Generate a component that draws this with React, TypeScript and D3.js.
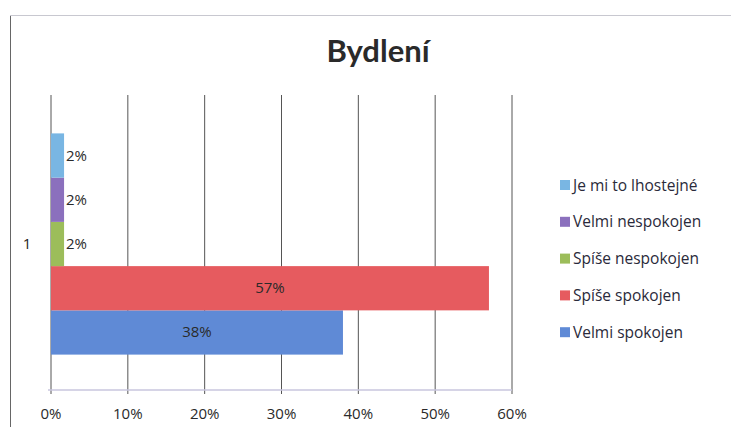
import React from "react";
import * as d3 from "d3";

const title = "Bydlení";
const categories = ["1"];
const seriesNames = ["Velmi spokojen", "Spíše spokojen", "Spíše nespokojen", "Velmi nespokojen", "Je mi to lhostejné"];
const seriesValues = [38, 57, 1.7, 1.7, 1.7];
const seriesColors = ["#5f8ad6", "#e65b5f", "#9cbd5a", "#8b70bd", "#79b6e3"];
const xTicks = [0, 10, 20, 30, 40, 50, 60];

const W = 739, H = 435;
const plot = { left: 51, right: 512, top: 95, bottom: 390 };
const font = "'Open Sans', 'Noto Sans', sans-serif";

export default function App() {
  const x = d3.scaleLinear().domain([0, 60]).range([plot.left, plot.right]);
  const yCat = d3.scaleBand().domain(categories).range([plot.top + 3, plot.bottom]).paddingInner(0).paddingOuter(0.16);
  // series drawn bottom-to-top (first series at bottom)
  const order = seriesNames.map((_, i) => i).reverse();
  const ySer = d3.scaleBand<number>().domain(order).range([0, yCat.bandwidth()]);
  const legendOrder = order;

  return (
    <div style={{ margin: -8, width: W, height: H, overflow: "hidden", background: "#fff" }}>
      <svg width={W} height={H} style={{ display: "block", fontFamily: font }}>
        <rect x={0} y={0} width={W} height={H} fill="#fff" />
        <line x1={10} x2={W} y1={15.5} y2={15.5} stroke="#c8c8d0" strokeWidth={1} />
        <line x1={10.5} x2={10.5} y1={16} y2={H} stroke="#666" strokeWidth={1} />
        <text x={378} y={62} textAnchor="middle" fontSize={31} fontWeight="bold" fill="#2a2a2a" fontFamily="Lato, 'Open Sans', sans-serif">{title}</text>
        {xTicks.map(t => (
          <line key={t} x1={x(t)} x2={x(t)} y1={plot.top} y2={plot.bottom + 4} stroke="#555" strokeWidth={1} />
        ))}
        <line x1={plot.left - 3} x2={plot.right} y1={plot.bottom} y2={plot.bottom} stroke="#c9c6de" strokeWidth={1.5} />
        {xTicks.map(t => (
          <text key={"l" + t} x={x(t)} y={419} textAnchor="middle" fontSize={15} fill="#2a2a2a">{t}%</text>
        ))}
        {categories.map(c => (
          <text key={c} x={27} y={(yCat(c) as number) + yCat.bandwidth() / 2 + 5} textAnchor="middle" fontSize={15} fill="#222">{c}</text>
        ))}
        {categories.map(c => (
          <g key={"g" + c} transform={`translate(0,${yCat(c)})`}>
            {seriesNames.map((s, i) => {
              const y0 = ySer(i) as number;
              const h = ySer.bandwidth();
              const v = seriesValues[i];
              const wBar = x(v) - x(0);
              const label = `${Math.round(v)}%`;
              const inside = wBar > 60;
              return (
                <g key={s}>
                  <rect x={x(0)} y={y0} width={wBar} height={h} fill={seriesColors[i]} />
                  <text x={inside ? x(0) + wBar / 2 : x(v) + 2} y={y0 + h / 2 + 5} textAnchor={inside ? "middle" : "start"} fontSize={15} fill="#2a2a2a">{label}</text>
                </g>
              );
            })}
          </g>
        ))}
        {legendOrder.map((i, k) => {
          const ly = 185 + k * 36.8;
          return (
            <g key={"leg" + i}>
              <rect x={560} y={ly - 5} width={10} height={10} fill={seriesColors[i]} />
              <text x={573} y={ly + 5.5} fontSize={15.5} fill="#2a2a3a">{seriesNames[i]}</text>
            </g>
          );
        })}
      </svg>
    </div>
  );
}
